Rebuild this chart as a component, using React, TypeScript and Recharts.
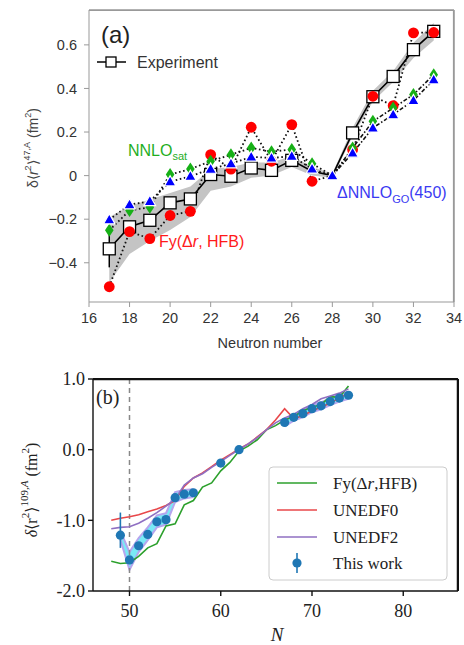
import React from "react";
import { ComposedChart, Line, Area, XAxis, YAxis, ReferenceLine, ErrorBar } from "recharts";

// ---------- Panel (a) data ----------
const neutronsA = [17, 18, 19, 20, 21, 22, 23, 24, 25, 26, 27, 28, 29, 30, 31, 32, 33];
const experimentA = [-0.336, -0.235, -0.205, -0.125, -0.107, 0.005, -0.003, 0.035, 0.024, 0.07, 0.02, 0, 0.196, 0.362, 0.455, 0.578, 0.662];
const experimentLow = [-0.49, -0.36, -0.3, -0.25, -0.19, -0.07, -0.05, -0.01, 0.0, 0.04, 0.0, -0.01, 0.18, 0.34, 0.43, 0.54, 0.62];
const experimentHigh = [-0.19, -0.14, -0.11, -0.08, -0.05, 0.03, 0.04, 0.06, 0.06, 0.09, 0.04, 0.01, 0.22, 0.39, 0.48, 0.61, 0.7];
const experimentErr = [0.085, null, null, null, null, null, null, null, null, null, null, null, null, null, null, null, null];
const fyHFB_A = [-0.51, -0.257, -0.289, -0.183, -0.164, 0.096, 0.03, 0.222, 0.066, 0.234, -0.026, 0, 0.119, 0.364, 0.321, 0.655, 0.657];
const nnloSat = [-0.251, -0.16, -0.145, 0.005, 0.03, 0.066, 0.096, 0.127, 0.11, 0.12, 0.055, 0, 0.127, 0.249, 0.31, 0.372, 0.463];
const dnnloGO = [-0.202, -0.133, -0.118, -0.028, -0.003, 0.03, 0.055, 0.086, 0.081, 0.089, 0.031, 0, 0.104, 0.219, 0.28, 0.345, 0.44];
const referenceN = 28; // reference isotope: markers hidden except ΔNNLO_GO
const domainAX = [16, 34];
const domainAY = [-0.58, 0.76];
const ticksAX = [16, 18, 20, 22, 24, 26, 28, 30, 32, 34];
const ticksAY = [-0.4, -0.2, 0, 0.2, 0.4, 0.6];

// ---------- Panel (b) data ----------
const neutronsB = [48, 49, 50, 51, 52, 53, 54, 55, 56, 57, 58, 59, 60, 61, 62, 63, 64, 65, 66, 67, 68, 69, 70, 71, 72, 73, 74];
const fyHFB_B = [-1.58, -1.61, -1.6, -1.51, -1.39, -1.33, -1.08, -1.05, -0.78, -0.72, -0.53, -0.47, -0.3, -0.18, -0.02, 0.05, 0.14, 0.28, 0.34, 0.42, 0.47, 0.55, 0.6, 0.64, 0.75, 0.74, 0.9];
const unedf0 = [-1.0, -0.97, -0.95, -0.92, -0.88, -0.84, -0.79, -0.72, -0.52, -0.4, -0.33, -0.24, -0.15, -0.07, 0.01, 0.08, 0.18, 0.28, 0.42, 0.58, 0.44, 0.48, 0.55, 0.6, 0.66, 0.73, 0.8];
const unedf2 = [-1.12, -1.1, -1.09, -1.04, -0.97, -0.89, -0.8, -0.7, -0.5, -0.4, -0.34, -0.25, -0.17, -0.08, 0.0, 0.08, 0.17, 0.28, 0.38, 0.45, 0.5, 0.58, 0.64, 0.72, 0.76, 0.8, 0.86];
const thisWorkN = [49, 50, 51, 52, 53, 54, 55, 56, 57, 60, 62, 67, 68, 69, 70, 71, 72, 73, 74];
const thisWork = [-1.21, -1.56, -1.36, -1.2, -1.02, -0.99, -0.68, -0.63, -0.61, -0.19, 0.0, 0.386, 0.457, 0.51, 0.58, 0.62, 0.68, 0.73, 0.77];
const bandN = [49, 50, 51, 52, 53, 54, 55, 56, 57, 67, 68, 69, 70, 71, 72, 73, 74];
const bandLow = [-1.27, -1.7, -1.45, -1.28, -1.1, -1.06, -0.74, -0.69, -0.67, 0.33, 0.41, 0.46, 0.53, 0.57, 0.63, 0.68, 0.72];
const bandHigh = [-1.15, -1.45, -1.25, -1.1, -0.93, -0.9, -0.6, -0.57, -0.56, 0.43, 0.5, 0.56, 0.63, 0.67, 0.73, 0.78, 0.82];
const errN = [49];
const errLowHigh = [[0.18, 0.32]];
const domainBX = [46, 86];
const domainBY = [-2, 1];
const ticksBX = [50, 60, 70, 80];
const ticksBY = [-2, -1, 0, 1];

const rowsA = neutronsA.map((n, i) => ({
  n,
  exp: experimentA[i],
  expM: n >= referenceN - 1 && n <= referenceN ? null : experimentA[i],
  band: [experimentLow[i], experimentHigh[i]],
  err: experimentErr[i],
  fy: fyHFB_A[i],
  fyM: n === referenceN ? null : fyHFB_A[i],
  sat: i <= 11 ? nnloSat[i] : null,
  satB: i >= 11 ? nnloSat[i] : null,
  satM: n === referenceN ? null : nnloSat[i],
  go: i <= 11 ? dnnloGO[i] : null,
  goB: i >= 11 ? dnnloGO[i] : null,
  goM: dnnloGO[i],
}));

const rowsB = neutronsB.map((n, i) => {
  const t = thisWorkN.indexOf(n);
  const b = bandN.indexOf(n);
  const e = errN.indexOf(n);
  return {
    n,
    fy: fyHFB_B[i],
    u0: unedf0[i],
    u2: unedf2[i],
    tw: t >= 0 ? thisWork[t] : null,
    band: b >= 0 ? [bandLow[b], bandHigh[b]] : null,
    err: e >= 0 ? errLowHigh[e] : null,
  };
});

const SANS = "'Liberation Sans', Arial, sans-serif";
const SERIF = "'Liberation Serif', 'DejaVu Serif', serif";

const ok = (p: any) => p.cx != null && p.cy != null && p.value != null && !Number.isNaN(p.cy);

const squareDot = (p: any) =>
  ok(p) ? (
    <rect key={`sq${p.index}`} x={p.cx - 6} y={p.cy - 6} width={12} height={12} fill="#fff" stroke="#000" strokeWidth={1.3} />
  ) : (
    <g key={`sq${p.index}`} />
  );
const redDot = (p: any) =>
  ok(p) ? <circle key={`rc${p.index}`} cx={p.cx} cy={p.cy} r={5.4} fill="#ff0000" /> : <g key={`rc${p.index}`} />;
const greenDot = (p: any) =>
  ok(p) ? (
    <polygon
      key={`gd${p.index}`}
      points={`${p.cx},${p.cy - 6.5} ${p.cx + 4.3},${p.cy} ${p.cx},${p.cy + 6.5} ${p.cx - 4.3},${p.cy}`}
      fill="#16b016"
    />
  ) : (
    <g key={`gd${p.index}`} />
  );
const blueDot = (p: any) =>
  ok(p) ? (
    <polygon
      key={`bt${p.index}`}
      points={`${p.cx},${p.cy - 6} ${p.cx + 5.8},${p.cy + 4.2} ${p.cx - 5.8},${p.cy + 4.2}`}
      fill="#0000ff"
      stroke="#fff"
      strokeWidth={1.2}
    />
  ) : (
    <g key={`bt${p.index}`} />
  );
const twDot = (p: any) =>
  ok(p) ? <circle key={`tw${p.index}`} cx={p.cx} cy={p.cy} r={4.6} fill="#1f77b4" /> : <g key={`tw${p.index}`} />;

const fmtA = (v: number) => (v === 0 ? "0" : v < 0 ? "\u2212" + Math.abs(v).toFixed(1) : v.toFixed(1));
const fmtB = (v: number) => v.toFixed(1);

function PanelA() {
  const axisGray = "#999";
  const tickStyle = { fontFamily: SANS, fontSize: 14.5, fill: "#333" };
  return (
    <ComposedChart width={464} height={355} data={rowsA} margin={{ top: 10, right: 10, left: 0, bottom: 0 }}>
      <XAxis
        dataKey="n"
        type="number"
        domain={domainAX}
        ticks={ticksAX}
        height={53}
        tickSize={5}
        tickMargin={6}
        stroke={axisGray}
        tick={tickStyle}
        allowDataOverflow
      />
      <YAxis
        type="number"
        domain={domainAY}
        ticks={ticksAY}
        width={89}
        tickSize={5}
        tickMargin={7}
        stroke={axisGray}
        tick={tickStyle}
        tickFormatter={fmtA}
        allowDataOverflow
      />
      <Area dataKey="band" type="linear" fill="#c4c4c4" fillOpacity={1} stroke="none" isAnimationActive={false} activeDot={false} />
      <Line dataKey="fy" type="linear" stroke="#111" strokeWidth={1.8} strokeDasharray="1.6 2.6" dot={false} activeDot={false} isAnimationActive={false} />
      <Line dataKey="sat" type="linear" stroke="#111" strokeWidth={1.8} strokeDasharray="1.6 2.6" dot={false} activeDot={false} isAnimationActive={false} />
      <Line dataKey="go" type="linear" stroke="#111" strokeWidth={1.8} strokeDasharray="1.6 2.6" dot={false} activeDot={false} isAnimationActive={false} />
      <Line dataKey="satB" type="linear" stroke="#111" strokeWidth={1.6} strokeDasharray="4 2 1.5 2" dot={false} activeDot={false} isAnimationActive={false} />
      <Line dataKey="goB" type="linear" stroke="#111" strokeWidth={1.6} strokeDasharray="4 2 1.5 2" dot={false} activeDot={false} isAnimationActive={false} />
      <Line dataKey="exp" type="linear" stroke="#000" strokeWidth={1.6} dot={false} activeDot={false} isAnimationActive={false}>
        <ErrorBar dataKey="err" width={0} stroke="#000" strokeWidth={1.5} direction="y" />
      </Line>
      <Line dataKey="expM" type="linear" stroke="none" dot={squareDot} activeDot={false} isAnimationActive={false} />
      <Line dataKey="fyM" type="linear" stroke="none" dot={redDot} activeDot={false} isAnimationActive={false} />
      <Line dataKey="satM" type="linear" stroke="none" dot={greenDot} activeDot={false} isAnimationActive={false} />
      <Line dataKey="goM" type="linear" stroke="none" dot={blueDot} activeDot={false} isAnimationActive={false} />
      <ReferenceLine y={domainAY[1]} stroke={axisGray} strokeWidth={1.5} ifOverflow="visible" />
      <ReferenceLine x={domainAX[1]} stroke={axisGray} strokeWidth={1.5} ifOverflow="visible" />
    </ComposedChart>
  );
}

function PanelB() {
  const tickStyle = { fontFamily: SERIF, fontSize: 18, fill: "#222" };
  return (
    <ComposedChart width={464} height={295} data={rowsB} margin={{ top: 29, right: 6, left: 0, bottom: 0 }}>
      <XAxis
        dataKey="n"
        type="number"
        domain={domainBX}
        ticks={ticksBX}
        height={54}
        tickSize={5}
        tickMargin={8}
        stroke="#111"
        strokeWidth={1.4}
        tick={tickStyle}
        allowDataOverflow
      />
      <YAxis
        type="number"
        domain={domainBY}
        ticks={ticksBY}
        width={93}
        tickSize={5}
        tickMargin={3}
        stroke="#111"
        strokeWidth={1.4}
        tick={tickStyle}
        tickFormatter={fmtB}
        allowDataOverflow
      />
      <Area dataKey="band" type="linear" fill="#7ae9f6" fillOpacity={1} stroke="#b5a6ee" strokeWidth={2} isAnimationActive={false} activeDot={false} />
      <ReferenceLine x={50} stroke="#888" strokeWidth={1.5} strokeDasharray="5 4" />
      <Line dataKey="fy" type="linear" stroke="#2ca02c" strokeWidth={1.6} dot={false} activeDot={false} isAnimationActive={false} />
      <Line dataKey="u0" type="linear" stroke="#e8474a" strokeWidth={1.6} dot={false} activeDot={false} isAnimationActive={false} />
      <Line dataKey="u2" type="linear" stroke="#8f6fc2" strokeWidth={1.6} dot={false} activeDot={false} isAnimationActive={false} />
      <Line dataKey="tw" type="linear" stroke="none" dot={twDot} activeDot={false} isAnimationActive={false}>
        <ErrorBar dataKey="err" width={0} stroke="#1f77b4" strokeWidth={1.6} direction="y" />
      </Line>
      <ReferenceLine y={domainBY[1]} stroke="#111" strokeWidth={2} ifOverflow="visible" />
      <ReferenceLine x={domainBX[1]} stroke="#111" strokeWidth={2} ifOverflow="visible" />
    </ComposedChart>
  );
}

function Overlay() {
  return (
    <svg width={464} height={645} viewBox="0 0 464 645" style={{ position: "absolute", left: 0, top: 0, pointerEvents: "none", zIndex: 5 }}>
      {/* plot frames (top & right edges) */}
      <path d="M89 10.5 H453.5 V302" fill="none" stroke="#999" strokeWidth={1.2} />
      <path d="M93 379.5 H457.5 V591" fill="none" stroke="#111" strokeWidth={1.5} />

      {/* Panel (a) annotations */}
      <text x={101} y={43} fontFamily={SANS} fontSize={24} fill="#222">(a)</text>
      <line x1={97} x2={126} y1={62} y2={62} stroke="#000" strokeWidth={1.5} />
      <rect x={106} y={57} width={10} height={10} fill="#fff" stroke="#000" strokeWidth={1.3} />
      <text x={137} y={67.5} fontFamily={SANS} fontSize={16} fill="#333">Experiment</text>
      <text x={128} y={156} fontFamily={SANS} fontSize={16} fill="#1fae1f">
        NNLO<tspan dy={4} fontSize={11}>sat</tspan>
      </text>
      <text x={159} y={247} fontFamily={SANS} fontSize={16} fill="#ff1a1a">
        Fy(Δ<tspan fontStyle="italic">r</tspan>, HFB)
      </text>
      <text x={337} y={198} fontFamily={SANS} fontSize={16} fill="#3a3af2">
        ΔNNLO<tspan dy={5} fontSize={11}>GO</tspan>
        <tspan dy={-5}>(450)</tspan>
      </text>
      <text transform="rotate(-90, 33, 148)" x={33} y={148} textAnchor="middle" dominantBaseline="central" fontFamily={SANS} fontSize={14} fill="#444">
        δ⟨<tspan fontStyle="italic">r</tspan>
        <tspan dy={-5} fontSize={9}>2</tspan>
        <tspan dy={5}>⟩</tspan>
        <tspan dy={-6} fontSize={9}>47,A</tspan>
        <tspan dy={6}> (fm</tspan>
        <tspan dy={-5} fontSize={9}>2</tspan>
        <tspan dy={5}>)</tspan>
      </text>
      <text x={270} y={348} textAnchor="middle" fontFamily={SANS} fontSize={14.5} fill="#333">Neutron number</text>

      {/* Panel (b) annotations */}
      <text x={96} y={404} fontFamily={SERIF} fontSize={20} fill="#222">(b)</text>
      <text transform="rotate(-90, 31, 490)" x={31} y={490} textAnchor="middle" dominantBaseline="central" fontFamily={SERIF} fontSize={16} fill="#222">
        <tspan fontStyle="italic">δ</tspan>⟨r
        <tspan dy={-6} fontSize={11}>2</tspan>
        <tspan dy={6}>⟩</tspan>
        <tspan dy={-7} fontSize={11}>109,</tspan>
        <tspan fontSize={11} fontStyle="italic">A</tspan>
        <tspan dy={7}> (fm</tspan>
        <tspan dy={-6} fontSize={11}>2</tspan>
        <tspan dy={6}>)</tspan>
      </text>
      <text x={277} y={641} textAnchor="middle" fontFamily={SERIF} fontStyle="italic" fontSize={19} fill="#222">N</text>

      <rect x={269} y={467} width={178} height={113} rx={4} fill="#fff" fillOpacity={0.85} stroke="#ccc" strokeWidth={1} />
      <line x1={277} x2={317} y1={483} y2={483} stroke="#2ca02c" strokeWidth={1.6} />
      <text x={333} y={489} fontFamily={SERIF} fontSize={17} fill="#222">
        Fy(Δ<tspan fontStyle="italic">r</tspan>,HFB)
      </text>
      <line x1={277} x2={317} y1={510} y2={510} stroke="#e8474a" strokeWidth={1.6} />
      <text x={333} y={516} fontFamily={SERIF} fontSize={17} fill="#222">UNEDF0</text>
      <line x1={277} x2={317} y1={537} y2={537} stroke="#8f6fc2" strokeWidth={1.6} />
      <text x={333} y={543} fontFamily={SERIF} fontSize={17} fill="#222">UNEDF2</text>
      <line x1={297} x2={297} y1={553} y2={573} stroke="#1f77b4" strokeWidth={1.6} />
      <circle cx={297} cy={563} r={4.6} fill="#1f77b4" />
      <text x={333} y={569} fontFamily={SERIF} fontSize={17} fill="#222">This work</text>
    </svg>
  );
}

export default function App() {
  return (
    <div style={{ position: "absolute", left: 0, top: 0, width: 464, height: 645, background: "#fff" }}>
      <div style={{ position: "absolute", left: 0, top: 0 }}>
        <PanelA />
      </div>
      <div style={{ position: "absolute", left: 0, top: 350 }}>
        <PanelB />
      </div>
      <Overlay />
    </div>
  );
}
